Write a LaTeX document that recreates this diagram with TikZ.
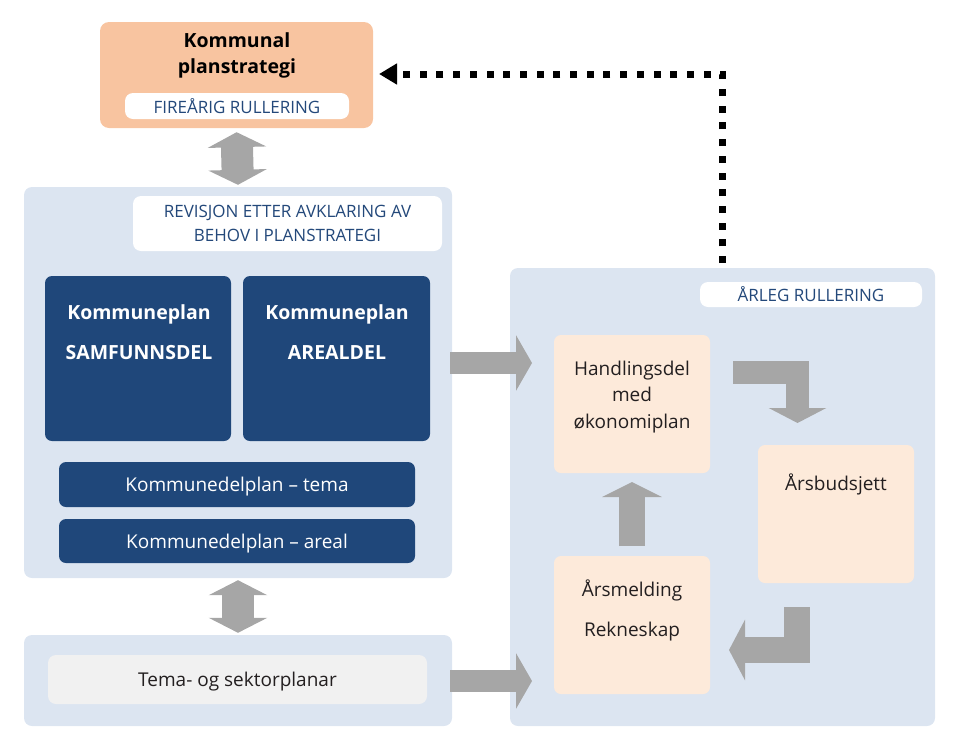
\documentclass[tikz,border=0pt]{standalone}
\usepackage{fontspec}
\setmainfont{Open Sans}
\usepackage{tikz}
\usetikzlibrary{arrows.meta,calc,positioning,shapes}

\definecolor{planorange}{HTML}{F8C4A0}
\definecolor{panelblue}{HTML}{DCE5F1}
\definecolor{darkblue}{HTML}{1F477A}
\definecolor{tagblue}{HTML}{23487A}
\definecolor{peach}{HTML}{FDEADA}
\definecolor{lightgrey}{HTML}{F1F1F1}
\definecolor{arrowgrey}{HTML}{A6A6A6}
\definecolor{textdark}{HTML}{231F20}

\begin{document}
\begin{tikzpicture}[x=1pt,y=-1pt]
	\tikzstyle{panel} = [fill=panelblue, rounded corners=8pt, inner sep=0pt]
	\tikzstyle{tag} = [fill=white, rounded corners=8pt, inner sep=0pt, text=tagblue, align=center, font=\fontsize{17}{24}\selectfont]
	\tikzstyle{darkbox} = [fill=darkblue, rounded corners=7pt, inner sep=0pt, text depth=0pt, text=white, font=\fontsize{19}{22}\selectfont]
	\tikzstyle{peachbox} = [fill=peach, rounded corners=7pt, inner sep=0pt]
	\tikzstyle{boxtext} = [text=textdark, align=center, inner sep=0pt, font=\fontsize{19}{26.5}\selectfont]
	\tikzstyle{blocktext} = [text=white, align=center, inner sep=0pt, font=\fontsize{19.5}{40}\selectfont\bfseries]
	\tikzstyle{bigarrow} = [draw=arrowgrey, line width=22pt, -{Triangle[length=16pt,width=55pt]}]
	\tikzstyle{dblarrow} = [draw=arrowgrey, line width=32pt, {Triangle[length=15pt,width=58pt]}-{Triangle[length=15pt,width=58pt]}]
	\tikzstyle{dotline} = [draw=black, line width=7pt, dash pattern=on 7pt off 9.7pt, -{Triangle[length=18pt,width=20pt]}]

	\useasboundingbox (0,0) rectangle (963,747);

	\node [fill=planorange, rounded corners=9pt, minimum width=273pt, minimum height=106pt] (plan) at (236.5,75) {};
	\node [align=center, inner sep=0pt, font=\fontsize{19.5}{26}\selectfont\bfseries] (plantitle) at (237,55) {Kommunal\\planstrategi};
	\node [tag, minimum width=224pt, minimum height=26pt] (firetag) at (237,106) {FIREÅRIG RULLERING};

	\node [panel, minimum width=428pt, minimum height=391pt] (revpanel) at (238,382.5) {};
	\node [tag, minimum width=309pt, minimum height=55pt] (revtag) at (287.5,223.5) {REVISJON ETTER AVKLARING AV\\BEHOV I PLANSTRATEGI};
	\node [darkbox, minimum width=186pt, minimum height=165pt] (samf) at (138,358.5) {};
	\node [blocktext] (samftext) at (139,332) {Kommuneplan\\SAMFUNNSDEL};
	\node [darkbox, minimum width=187pt, minimum height=165pt] (areal) at (336.5,358.5) {};
	\node [blocktext] (arealtext) at (337,332) {Kommuneplan\\AREALDEL};
	\node [darkbox, minimum width=356pt, minimum height=45pt] (temaplan) at (237,484.5) {Kommunedelplan – tema};
	\node [darkbox, minimum width=356pt, minimum height=44pt] (arealplan) at (237,541) {Kommunedelplan – areal};

	\node [panel, minimum width=428pt, minimum height=91pt] (sektpanel) at (238,680.5) {};
	\node [fill=lightgrey, rounded corners=8pt, minimum width=379pt, minimum height=49pt, text depth=0pt, text=textdark, font=\fontsize{19}{22}\selectfont] (sektor) at (237.5,679.5) {Tema- og sektorplanar};

	\node [panel, minimum width=425pt, minimum height=458pt] (yearpanel) at (722.5,497) {};
	\node [tag, minimum width=222pt, minimum height=25pt] (yeartag) at (811,294.5) {ÅRLEG RULLERING};
	\node [peachbox, minimum width=156pt, minimum height=138pt] (handling) at (632,404) {};
	\node [boxtext] (handlingtext) at (632,397) {Handlingsdel\\med\\økonomiplan};
	\node [peachbox, minimum width=156pt, minimum height=138pt] (budsjett) at (836,514) {};
	\node [boxtext] (budsjetttext) at (836,484) {Årsbudsjett};
	\node [peachbox, minimum width=156pt, minimum height=138pt] (melding) at (632,625) {};
	\node [boxtext, font=\fontsize{19}{40}\selectfont] (meldingtext) at (632,610) {Årsmelding\\Rekneskap};

	\coordinate (a1s) at (450,363);
	\coordinate (a1e) at (532,363);
	\coordinate (a2s) at (450,681);
	\coordinate (a2e) at (532,681);
	\coordinate (ups) at (632,546);
	\coordinate (upe) at (632,482);
	\coordinate (e1s) at (733,372.5);
	\coordinate (e1e) at (797.5,423);
	\coordinate (e2s) at (797,607);
	\coordinate (e2e) at (729,650);
	\coordinate (dots) at (722,263);
	\coordinate (dote) at (379,74);

	\draw [dblarrow, shorten <=4pt, shorten >=2pt] (plan.south) -- (revpanel.north);
	\draw [dblarrow, shorten <=2pt, shorten >=2pt] (revpanel.south) -- (sektpanel.north);
	\draw [bigarrow] (a1s) -- (a1e);
	\draw [bigarrow] (a2s) -- (a2e);
	\draw [bigarrow, line width=26pt, -{Triangle[length=15pt,width=59pt]}] (ups) -- (upe);
	\draw [bigarrow, line width=23pt, -{Triangle[length=15pt,width=57pt]}] (e1s) -| (e1e);
	\draw [bigarrow, line width=26pt, -{Triangle[length=16pt,width=60pt]}] (e2s) |- (e2e);
	\draw [dotline] (dots) |- (dote);

\end{tikzpicture}
\end{document}
